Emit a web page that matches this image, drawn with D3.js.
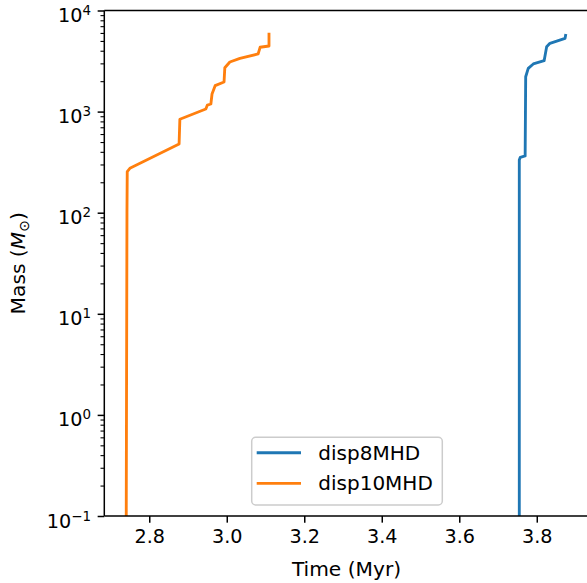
<!DOCTYPE html>
<html>
<head>
<meta charset="utf-8">
<script src="https://cdn.jsdelivr.net/npm/d3@7"></script>
<style>
  html, body { margin: 0; padding: 0; background: #fff; }
  svg { display: block; font-family: "DejaVu Sans", sans-serif; }
</style>
</head>
<body>
<svg id="chart" width="587" height="583"></svg>
<script>
// ---- data ----
const seriesNames = ["disp8MHD", "disp10MHD"];
const seriesColors = ["#1f77b4", "#ff7f0e"];

const disp8Time = [3.7549, 3.7549, 3.7575, 3.770, 3.7714, 3.778, 3.791, 3.819, 3.8255, 3.834, 3.873, 3.875];
const disp8Mass = [0.01, 332, 353, 364, 2213, 2679, 2958, 3188, 4383, 4740, 5310, 5865];

const disp10Time = [2.740, 2.7425, 2.7432, 2.750, 2.877, 2.879, 2.946, 2.950, 2.959, 2.962, 2.970, 2.993, 2.995, 3.008, 3.034, 3.081, 3.086, 3.109, 3.109];
const disp10Mass = [0.01, 100, 255, 275, 478, 840, 1062, 1161, 1189, 1493, 1805, 1963, 2718, 3097, 3367, 3715, 4327, 4454, 6026];

const xTicks = [2.8, 3.0, 3.2, 3.4, 3.6, 3.8];
const xTickLabels = ["2.8", "3.0", "3.2", "3.4", "3.6", "3.8"];
const yTicks = [1e-1, 1e0, 1e1, 1e2, 1e3, 1e4];
const yTickExps = ["\u22121", "0", "1", "2", "3", "4"];
const xDomain = [2.684, 3.934];
const yDomain = [1e-1, 1e4];

// ---- layout ----
const W = 587, H = 583;
const pL = 104.3, pR = 588.7, pT = 10.5, pB = 516;
const fsTick = 19.2, fsLabel = 20.2, fsLegend = 20;
const majorLen = 6.65, minorLen = 3.8, pad = 6.65;

const svg = d3.select("#chart");
const x = d3.scaleLinear().domain(xDomain).range([pL, pR]);
const y = d3.scaleLog().domain(yDomain).range([pB, pT]);

svg.append("defs").append("clipPath").attr("id", "plotclip")
  .append("rect").attr("x", pL).attr("y", pT).attr("width", pR - pL).attr("height", pB - pT);

// lines
const series = [
  { t: disp8Time, m: disp8Mass },
  { t: disp10Time, m: disp10Mass }
];
const line = d3.line().x(d => x(d[0])).y(d => y(d[1]));
const gLines = svg.append("g").attr("clip-path", "url(#plotclip)");
series.forEach((s, i) => {
  const pts = s.t.map((t, j) => [t, s.m[j]]);
  gLines.append("path").datum(pts)
    .attr("d", line)
    .attr("fill", "none")
    .attr("stroke", seriesColors[i])
    .attr("stroke-width", 2.85)
    .attr("stroke-linejoin", "round")
    .attr("stroke-linecap", "butt");
});

// x axis
const xAxis = d3.axisBottom(x).tickValues(xTicks)
  .tickFormat((d, i) => xTickLabels[i])
  .tickSizeInner(majorLen).tickSizeOuter(0).tickPadding(pad);
const gx = svg.append("g").attr("transform", `translate(0,${pB})`).call(xAxis);
gx.select(".domain").remove();
gx.selectAll(".tick line").attr("stroke", "#000").attr("stroke-width", 1.5);
gx.selectAll(".tick text").attr("font-size", fsTick).attr("fill", "#000")
  .attr("font-family", "DejaVu Sans");

// y axis (major)
const yAxis = d3.axisLeft(y).tickValues(yTicks).tickFormat(() => "")
  .tickSizeInner(majorLen).tickSizeOuter(0).tickPadding(pad);
const gy = svg.append("g").attr("transform", `translate(${pL},0)`).call(yAxis);
gy.select(".domain").remove();
gy.selectAll(".tick line").attr("stroke", "#000").attr("stroke-width", 1.5);
gy.selectAll(".tick text").remove();
gy.selectAll(".tick").each(function(d, i) {
  const t = d3.select(this).append("text")
    .attr("x", -(majorLen + pad)).attr("y", 11)
    .attr("text-anchor", "end").attr("font-size", fsTick).attr("fill", "#000")
    .attr("font-family", "DejaVu Sans");
  t.append("tspan").text("10");
  t.append("tspan").attr("dy", -7).attr("font-size", fsTick * 0.7).text(yTickExps[i]);
});

// y minor ticks
const minor = [];
for (let e = -1; e < 4; e++) for (let k = 2; k <= 9; k++) minor.push(k * Math.pow(10, e));
const yMinor = d3.axisLeft(y).tickValues(minor).tickFormat(() => "")
  .tickSizeInner(minorLen).tickSizeOuter(0);
const gym = svg.append("g").attr("transform", `translate(${pL},0)`).call(yMinor);
gym.select(".domain").remove();
gym.selectAll(".tick line").attr("stroke", "#000").attr("stroke-width", 1.1);

// spines
const sp = svg.append("g").attr("stroke", "#000").attr("stroke-width", 1.5).attr("fill", "none");
sp.append("line").attr("x1", pL).attr("x2", pL).attr("y1", pT).attr("y2", pB);
sp.append("line").attr("x1", pL).attr("x2", pR).attr("y1", pB).attr("y2", pB);
sp.append("line").attr("x1", pL).attr("x2", pR).attr("y1", pT).attr("y2", pT);
sp.append("line").attr("x1", pR).attr("x2", pR).attr("y1", pT).attr("y2", pB);

// axis labels
svg.append("text").attr("x", (pL + pR) / 2).attr("y", 576)
  .attr("text-anchor", "middle").attr("font-size", fsLabel).attr("fill", "#000")
  .text("Time (Myr)");

const yl = svg.append("text")
  .attr("transform", `translate(25,${(pT + pB) / 2}) rotate(-90)`)
  .attr("text-anchor", "middle").attr("font-size", fsLabel).attr("fill", "#000");
yl.append("tspan").text("Mass (");
yl.append("tspan").attr("font-style", "italic").text("M");
yl.append("tspan").attr("font-size", fsLabel * 0.7).attr("dy", 4).text("\u2299");
yl.append("tspan").attr("dy", -4).text(")");

// legend
const lgX = 251.7, lgY = 437.3, lgW = 190.6, lgH = 67.7;
const lg = svg.append("g");
lg.append("rect").attr("x", lgX).attr("y", lgY).attr("width", lgW).attr("height", lgH)
  .attr("rx", 4).attr("fill", "#fff").attr("fill-opacity", 0.8)
  .attr("stroke", "#cccccc").attr("stroke-width", 1.5);
const rowY = [452.7, 483.3];
seriesNames.forEach((n, i) => {
  lg.append("line").attr("x1", 256.7).attr("x2", 301).attr("y1", rowY[i]).attr("y2", rowY[i])
    .attr("stroke", seriesColors[i]).attr("stroke-width", 2.85);
  lg.append("text").attr("x", 318.3).attr("y", rowY[i]).attr("dy", "0.35em")
    .attr("font-size", fsLegend).attr("fill", "#000").text(n);
});
</script>
</body>
</html>
